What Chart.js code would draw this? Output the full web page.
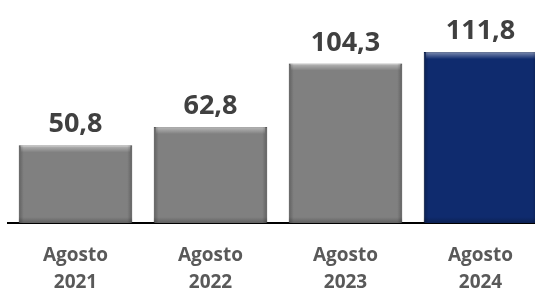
<!DOCTYPE html>
<html>
<head>
<meta charset="utf-8">
<script src="https://cdn.jsdelivr.net/npm/chart.js@4/dist/chart.umd.min.js"></script>
<style>
  html, body { margin: 0; padding: 0; background: #fff; overflow: hidden; }
  #wrap { position: relative; width: 548px; height: 315px; }
</style>
</head>
<body>
<div id="wrap"><canvas id="grafico"></canvas></div>
<script>
// Dados
const meses = ["Agosto", "Agosto", "Agosto", "Agosto"];
const anos = ["2021", "2022", "2023", "2024"];
const valores = [50.8, 62.8, 104.3, 111.8];
const cores = ["#808080", "#808080", "#808080", "#0f2b6e"];

const labels = meses.map((m, i) => [m, anos[i]]);

// Formatar número com vírgula
function fmt(v) {
    return v.toFixed(1).replace('.', ',');
}

// Efeito de relevo nas barras + rótulos de valor
const relevo = {
    id: 'relevo',
    afterDatasetsDraw(chart) {
        const ctx = chart.ctx;
        const meta = chart.getDatasetMeta(0);
        meta.data.forEach((bar, i) => {
            const l = bar.x - bar.width / 2;
            const r = bar.x + bar.width / 2;
            const t = bar.y;
            const b = bar.base;
            ctx.save();
            // faixa clara no topo
            let g = ctx.createLinearGradient(0, t, 0, t + 7);
            g.addColorStop(0, 'rgba(255,255,255,0.45)');
            g.addColorStop(1, 'rgba(255,255,255,0)');
            ctx.fillStyle = g;
            ctx.fillRect(l + 2, t, r - l - 4, 7);
            // laterais mais escuras
            g = ctx.createLinearGradient(l, 0, l + 5, 0);
            g.addColorStop(0, 'rgba(0,0,0,0.25)');
            g.addColorStop(1, 'rgba(0,0,0,0)');
            ctx.fillStyle = g;
            ctx.fillRect(l, t, 5, b - t);
            g = ctx.createLinearGradient(r, 0, r - 5, 0);
            g.addColorStop(0, 'rgba(0,0,0,0.25)');
            g.addColorStop(1, 'rgba(0,0,0,0)');
            ctx.fillStyle = g;
            ctx.fillRect(r - 5, t, 5, b - t);
            // base escura
            g = ctx.createLinearGradient(0, b, 0, b - 6);
            g.addColorStop(0, 'rgba(0,0,0,0.25)');
            g.addColorStop(1, 'rgba(0,0,0,0)');
            ctx.fillStyle = g;
            ctx.fillRect(l, b - 6, r - l, 6);

            // rótulo
            ctx.fillStyle = '#404040';
            ctx.font = 'bold 27px "Open Sans"';
            ctx.textAlign = 'center';
            ctx.textBaseline = 'alphabetic';
            ctx.fillText(fmt(valores[i]), bar.x, t - 13);
            ctx.restore();
        });
    }
};

new Chart(document.getElementById('grafico'), {
    type: 'bar',
    data: {
        labels: labels,
        datasets: [{
            data: valores,
            backgroundColor: cores,
            borderColor: cores.map(c => c === '#808080' ? '#6e6e6e' : '#0a2259'),
            borderWidth: 1,
            barPercentage: 0.84,
            categoryPercentage: 1
        }]
    },
    options: {
        responsive: true,
        maintainAspectRatio: false,
        animation: false,
        layout: { padding: { top: 9, left: 8, right: 0, bottom: 0 } },
        plugins: {
            legend: { display: false },
            tooltip: { enabled: false }
        },
        scales: {
            x: {
                grid: { display: false, drawTicks: false },
                border: { display: true, color: '#000', width: 2 },
                ticks: {
                    color: '#595959',
                    font: { family: 'Open Sans', weight: 'bold', size: 19, lineHeight: 1.42 },
                    padding: 19,
                    maxRotation: 0
                }
            },
            y: {
                display: false,
                min: 0,
                max: 140
            }
        }
    },
    plugins: [relevo]
});
</script>
</body>
</html>
